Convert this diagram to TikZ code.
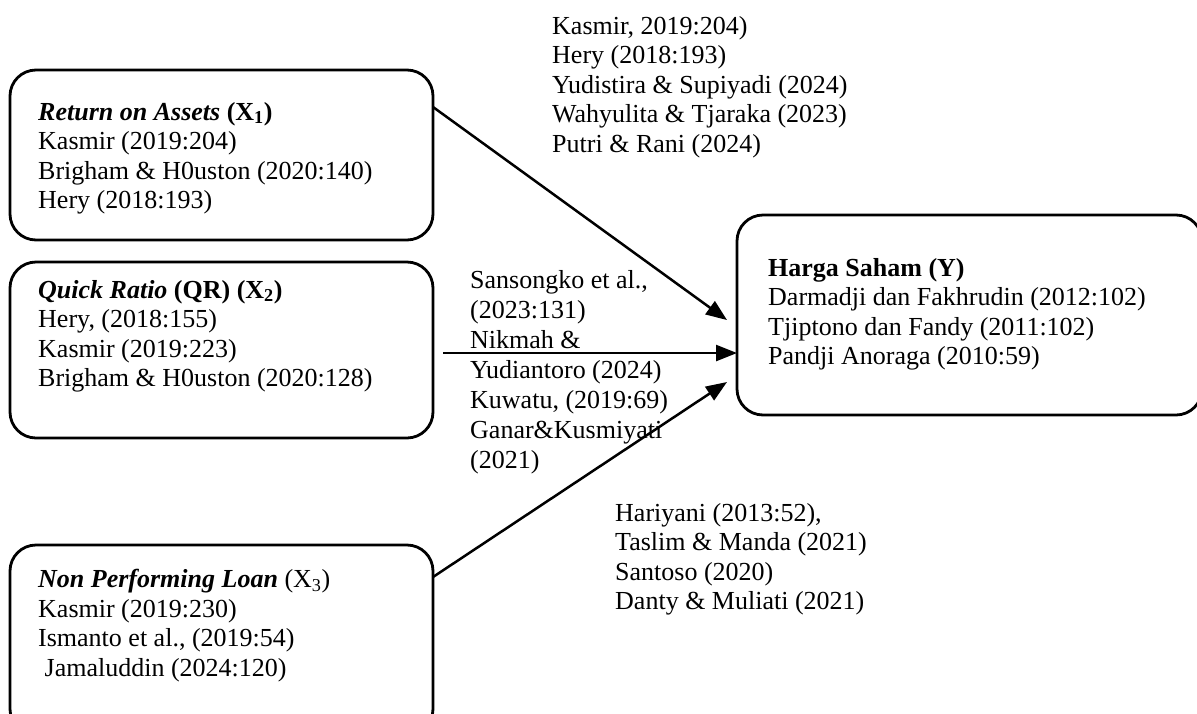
\documentclass[tikz,border=0pt]{standalone}
\usepackage{fontspec}
\setmainfont{Liberation Serif}
\usetikzlibrary{arrows.meta}
\begin{document}
\begin{tikzpicture}[x=1pt,y=-1pt,
  box/.style={draw,line width=2.8pt,rounded corners=26pt},
  txt/.style={anchor=north west,inner sep=0pt,align=left,font=\fontsize{26}{29.5}\selectfont},
  arr/.style={line width=2.5pt,-{Triangle[length=21pt,width=16pt]}}]
\useasboundingbox (0,0) rectangle (1197,713);
% boxes
\draw[box] (10,70) rectangle (433,240);
\node[inner sep=0pt] (b1) at (221.5,155) {};
\draw[box] (10,262) rectangle (433,438);
\node[inner sep=0pt] (b2) at (221.5,350) {};
\draw[box] (10,545) rectangle (433,735);
\node[inner sep=0pt] (b3) at (221.5,640) {};
\draw[box] (737,215) rectangle (1202,415);
\node[inner sep=0pt] (y) at (970,315) {};
% texts
\node[txt] (t1) at (38,102) {\textbf{\textit{Return on Assets}} \textbf{(X\textsubscript{1})}\\Kasmir (2019:204)\\Brigham \& H0uston (2020:140)\\Hery (2018:193)};
\node[txt] (t2) at (38,280) {\textbf{\textit{Quick Ratio}} \textbf{(QR) (X\textsubscript{2})}\\Hery, (2018:155)\\Kasmir (2019:223)\\Brigham \& H0uston (2020:128)};
\node[txt] (t3) at (38,569) {\textbf{\textit{Non Performing Loan}} (X\textsubscript{3})\\Kasmir (2019:230)\\Ismanto et al., (2019:54)\\\ Jamaluddin (2024:120)};
\node[txt] (ty) at (768,258) {\textbf{Harga Saham (Y)}\\Darmadji dan Fakhrudin (2012:102)\\Tjiptono dan Fandy (2011:102)\\Pandji Anoraga (2010:59)};
\node[txt] (l1) at (552,16) {Kasmir, 2019:204)\\Hery (2018:193)\\Yudistira \& Supiyadi (2024)\\Wahyulita \& Tjaraka (2023)\\Putri \& Rani (2024)};
\node[txt,font=\fontsize{26}{30}\selectfont] (l2) at (470,270) {Sansongko et al.,\\(2023:131)\\Nikmah \&\\Yudiantoro (2024)\\Kuwatu, (2019:69)\\Ganar\&Kusmiyati\\(2021)};
\node[txt] (l3) at (615,503) {Hariyani (2013:52),\\Taslim \& Manda (2021)\\Santoso (2020)\\Danty \& Muliati (2021)};
% connectors
\coordinate (s1) at (433,107);
\coordinate (e1) at (727,320);
\coordinate (s2) at (443,353);
\coordinate (e2) at (737,353);
\coordinate (s3) at (433,577);
\coordinate (e3) at (727,382);
\draw[arr] (s1) -- (e1);
\draw[arr] (s2) -- (e2);
\draw[arr] (s3) -- (e3);
\end{tikzpicture}
\end{document}
